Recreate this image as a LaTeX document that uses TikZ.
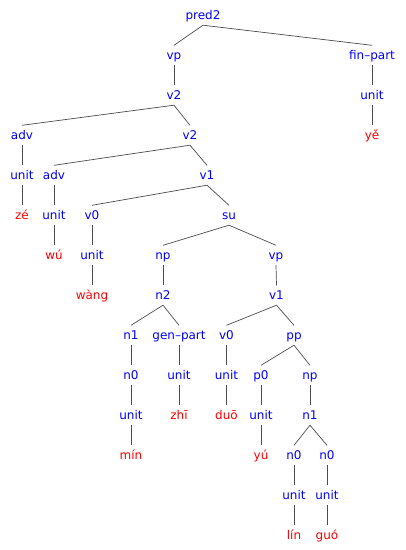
\documentclass[tikz,border=0pt]{standalone}
\usepackage{fontspec}
\setmainfont{DejaVu Sans}
\begin{document}
\begin{tikzpicture}[x=1pt,y=-1pt,
  lab/.style={anchor=base,font=\fontsize{12}{14}\selectfont,inner xsep=1pt,inner ysep=0pt,text height=14pt,text depth=5.5pt},
  cat/.style={lab,text=blue},
  word/.style={lab,text=red},
  br/.style={draw=black!70,line width=0.7pt}]
\useasboundingbox (0,0) rectangle (406,550);
\def\r#1{\the\numexpr 20+40*#1\relax}
% row 0
\node[cat] (pred2) at (203,19.5) {pred2};
% row 1
\node[cat] (vp) at (174,59.5) {vp};
\node[cat] (finpart) at (372,59.5) {fin–part};
% row 2
\node[cat] (v2a) at (174,99.5) {v2};
\node[cat] (unitF) at (372,99.5) {unit};
% row 3
\node[cat] (adv1) at (22,139.5) {adv};
\node[cat] (v2b) at (190,139.5) {v2};
\node[word] (ye) at (372,139.5) {yě};
% row 4
\node[cat] (unitA) at (22,179.5) {unit};
\node[cat] (adv2) at (54,179.5) {adv};
\node[cat] (v1a) at (207,179.5) {v1};
% row 5
\node[word] (ze) at (22,219.5) {zé};
\node[cat] (unitB) at (54,219.5) {unit};
\node[cat] (v0a) at (92,219.5) {v0};
\node[cat] (su) at (229,219.5) {su};
% row 6
\node[word] (wu) at (54,259.5) {wú};
\node[cat] (unitC) at (92,259.5) {unit};
\node[cat] (np1) at (163,259.5) {np};
\node[cat] (vp2) at (276,259.5) {vp};
% row 7
\node[word] (wang) at (92,299.5) {wàng};
\node[cat] (n2) at (163,299.5) {n2};
\node[cat] (v1b) at (276.5,299.5) {v1};
% row 8
\node[cat] (n1a) at (131,339.5) {n1};
\node[cat] (genpart) at (179,339.5) {gen–part};
\node[cat] (v0b) at (226.5,339.5) {v0};
\node[cat] (pp) at (294,339.5) {pp};
% row 9
\node[cat] (n0a) at (131,379.5) {n0};
\node[cat] (unitG) at (179,379.5) {unit};
\node[cat] (unitD) at (226.5,379.5) {unit};
\node[cat] (p0) at (261,379.5) {p0};
\node[cat] (np2) at (310,379.5) {np};
% row 10
\node[cat] (unitN) at (131,419.5) {unit};
\node[word] (zhi) at (179,419.5) {zhī};
\node[word] (duo) at (226.5,419.5) {duō};
\node[cat] (unitP) at (261,419.5) {unit};
\node[cat] (n1b) at (310,419.5) {n1};
% row 11
\node[word] (min) at (131,459.5) {mín};
\node[word] (yu) at (261,459.5) {yú};
\node[cat] (n0b) at (294,459.5) {n0};
\node[cat] (n0c) at (327,459.5) {n0};
% row 12
\node[cat] (unitL) at (294,499.5) {unit};
\node[cat] (unitQ) at (327,499.5) {unit};
% row 13
\node[word] (lin) at (294,539.5) {lín};
\node[word] (guo) at (327,539.5) {guó};
% connectors
\foreach \p/\c in {pred2/vp,pred2/finpart,vp/v2a,finpart/unitF,unitF/ye,
  v2a/adv1,v2a/v2b,adv1/unitA,unitA/ze,v2b/adv2,v2b/v1a,adv2/unitB,unitB/wu,
  v1a/v0a,v1a/su,v0a/unitC,unitC/wang,su/np1,su/vp2,np1/n2,vp2/v1b,
  n2/n1a,n2/genpart,n1a/n0a,n0a/unitN,unitN/min,genpart/unitG,unitG/zhi,
  v1b/v0b,v1b/pp,v0b/unitD,unitD/duo,pp/p0,pp/np2,p0/unitP,unitP/yu,
  np2/n1b,n1b/n0b,n1b/n0c,n0b/unitL,n0c/unitQ,unitL/lin,unitQ/guo}
  \draw[br] (\p.south) -- (\c.north);
\end{tikzpicture}
\end{document}
